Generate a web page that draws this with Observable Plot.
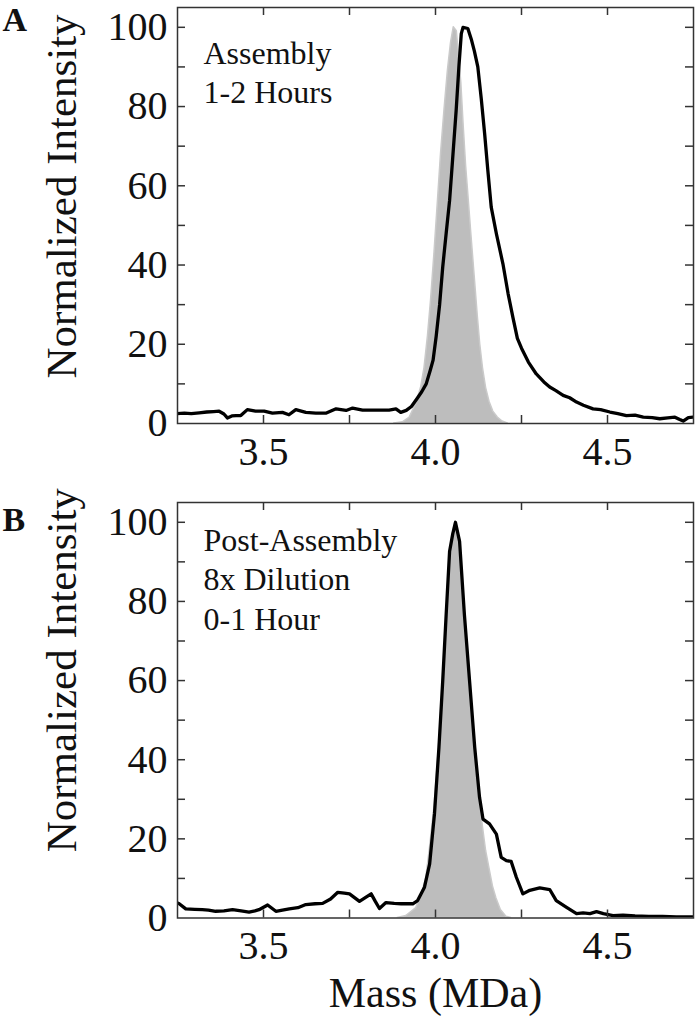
<!DOCTYPE html>
<html>
<head>
<meta charset="utf-8">
<script src="https://cdn.jsdelivr.net/npm/d3@7"></script>
<script src="https://cdn.jsdelivr.net/npm/@observablehq/plot@0.6"></script>
<style>
  html, body { margin: 0; padding: 0; background: #fff; }
  #chart { width: 695px; height: 1020px; position: relative; background: #fff; }
  #chart svg { display: block; }
</style>
</head>
<body>
<div id="chart"></div>
<script>
// ---------- Data ----------
// Panel A: Assembly 1-2 Hours (black measured trace)
const massA = [3.245,3.27,3.29,3.313,3.335,3.355,3.371,3.385,3.395,3.408,3.420,3.434,3.453,3.477,3.502,3.526,3.555,3.574,3.594,3.623,3.652,3.681,3.711,3.740,3.759,3.788,3.826,3.865,3.885,3.899,3.915,3.930,3.944,3.960,3.973,3.985,3.993,4.002,4.012,4.021,4.031,4.041,4.050,4.060,4.068,4.075,4.080,4.094,4.104,4.113,4.123,4.133,4.143,4.152,4.162,4.177,4.196,4.211,4.225,4.238,4.250,4.270,4.293,4.315,4.332,4.350,4.371,4.390,4.410,4.430,4.458,4.480,4.507,4.530,4.555,4.580,4.604,4.630,4.652,4.675,4.696,4.710,4.720,4.735,4.749];
const intensityA = [2.5,2.6,2.5,2.7,2.9,3.0,3.1,2.4,1.4,1.9,2.0,2.0,3.5,3.1,3.1,2.6,2.8,2.2,3.5,2.8,2.6,2.6,3.7,3.3,3.9,3.4,3.4,3.4,3.7,2.8,3.3,4.3,6.0,8.0,10.0,13.5,16.0,22.0,30.0,39.5,48.0,56.3,67.0,79.0,90.0,98.4,100,99.7,97,94,90,82,73,64,54.6,47.9,40.3,32.8,26.8,21.5,19.0,15.5,12.5,10.5,9.2,8.3,7.1,6.5,5.4,4.6,3.7,3.5,2.9,2.5,2.0,2.1,1.6,1.5,1.2,1.4,1.6,1.0,0.6,1.5,1.6];
// Panel A: gray reference distribution
const grayMassA = [3.880,3.905,3.925,3.944,3.958,3.968,3.978,3.987,3.997,4.007,4.016,4.026,4.036,4.045,4.053,4.062,4.068,4.075,4.082,4.089,4.097,4.104,4.114,4.123,4.130,4.138,4.147,4.157,4.168,4.181,4.195,4.210];
const grayIntA = [0,0.3,1.5,5,9,14,22,31,43,56,68,79,89,96,100,99,93,86,75,65,56,48,37,27,20,14,9,5.5,3,1.5,0.5,0];

// Panel B: Post-Assembly 8x Dilution 0-1 Hour (black measured trace)
const massB = [3.245,3.255,3.274,3.30,3.322,3.34,3.361,3.385,3.410,3.435,3.458,3.475,3.487,3.512,3.536,3.555,3.575,3.60,3.623,3.650,3.672,3.695,3.716,3.735,3.750,3.779,3.797,3.813,3.825,3.837,3.856,3.88,3.90,3.92,3.934,3.948,3.968,3.983,3.997,4.010,4.021,4.031,4.041,4.050,4.058,4.070,4.084,4.099,4.114,4.128,4.138,4.157,4.177,4.191,4.206,4.220,4.235,4.254,4.274,4.303,4.332,4.351,4.381,4.410,4.429,4.449,4.468,4.488,4.516,4.545,4.58,4.62,4.66,4.70,4.749];
const intensityB = [4.0,3.6,2.3,2.2,2.1,2.0,1.7,1.8,2.1,1.8,1.5,1.8,2.1,3.3,1.7,2.0,2.3,2.6,3.4,3.6,3.7,4.8,6.5,6.3,6.1,4.2,5.2,6.1,4.2,2.4,3.9,3.7,3.6,3.6,3.6,4.4,7.8,13.7,26.3,43.1,59.9,76.7,92.7,97,100,95.2,76.7,59.9,43.1,30.5,25.0,23.8,21.2,15.3,14.5,14.3,10.3,6.1,7.0,7.6,7.2,4.4,2.7,1.1,1.3,1.1,1.6,1.1,0.6,0.7,0.5,0.4,0.4,0.3,0.3];
// Panel B: gray reference distribution
const grayMassB = [3.890,3.915,3.944,3.960,3.973,3.983,3.997,4.010,4.021,4.031,4.041,4.050,4.058,4.066,4.074,4.084,4.099,4.114,4.128,4.138,4.147,4.157,4.167,4.177,4.190,4.206,4.220];
const grayIntB = [0,0.5,2.5,6,10,17,28,43,58,74,89,97,100,96,90,77,60,43,30,23,17,12.5,8,5,2,0.3,0];

// Axes / ticks
const xDomain = [3.25, 4.75];
const yDomain = [0, 105];
const xTickAll = [3.5, 3.75, 4.0, 4.25, 4.5];
const xTickLabels = [3.5, 4.0, 4.5];
const yTickAll = [10, 20, 30, 40, 50, 60, 70, 80, 90, 100];
const yTickLabels = [0, 20, 40, 60, 80, 100];

const panelLetters = ["A", "B"];
const notes = ["Assembly\n1-2 Hours", "Post-Assembly\n8x Dilution\n0-1 Hour"];
const yLabel = "Normalized Intensity";
const xLabel = "Mass (MDa)";

// ---------- Drawing ----------
const FONT = '"Liberation Serif", "Times New Roman", Times, serif';
const zip = (xs, ys) => xs.map((m, i) => ({m, v: ys[i]}));

function panel(cfg) {
  const W = 695;
  const innerW = W - cfg.ml - cfg.mr;
  const innerH = cfg.h - cfg.mt - cfg.mb;
  const tk = 8;
  const tickStyle = {stroke: "#333", strokeWidth: 1.5};
  const marks = [
    Plot.areaY(zip(cfg.gm, cfg.gv), {x: "m", y: "v", fill: "#bdbdbd", stroke: "#cacaca", strokeWidth: 1.5, clip: true}),
    Plot.line(zip(cfg.bm, cfg.bv), {x: "m", y: "v", stroke: "#000", strokeWidth: 3.3, strokeLinejoin: "round", clip: true}),
    Plot.frame({stroke: "#333", strokeWidth: 1.5}),
    // inward ticks on all four sides
    Plot.tickX(xTickAll, {x: d => d, insetTop: innerH - tk, ...tickStyle}),
    Plot.tickX(xTickAll, {x: d => d, insetBottom: innerH - tk, ...tickStyle}),
    Plot.tickY(yTickAll, {y: d => d, insetRight: innerW - tk, ...tickStyle}),
    Plot.tickY(yTickAll, {y: d => d, insetLeft: innerW - tk, ...tickStyle}),
    Plot.axisX(xTickLabels, {tickSize: 0, tickPadding: 13, tickFormat: d3.format(".1f"), fontSize: 40, label: null, fill: "#111"}),
    Plot.axisY(yTickLabels, {tickSize: 0, tickPadding: 10, fontSize: 40, label: null, fill: "#111"}),
    Plot.text([cfg.note], {text: d => d, frameAnchor: "top-left", textAnchor: "start", lineAnchor: "top", dx: 26, dy: cfg.noteDy, fontSize: 32, lineHeight: 1.24, fill: "#111"}),
    Plot.text([cfg.letter], {text: d => d, frameAnchor: "top-left", textAnchor: "start", lineAnchor: "top", dx: -175, dy: cfg.letterDy, fontSize: 34, fontWeight: "bold", fill: "#111"}),
    Plot.text([yLabel], {text: d => d, frameAnchor: "left", rotate: -90, textAnchor: "middle", lineAnchor: "middle", dx: -115, dy: cfg.ylDy, fontSize: 43, fill: "#111"})
  ];
  if (cfg.xlabel) {
    marks.push(Plot.text([xLabel], {text: d => d, frameAnchor: "bottom", textAnchor: "middle", lineAnchor: "middle", dy: 76, fontSize: 42, fill: "#111"}));
  }
  return Plot.plot({
    width: W, height: cfg.h,
    marginLeft: cfg.ml, marginRight: cfg.mr, marginTop: cfg.mt, marginBottom: cfg.mb,
    x: {domain: xDomain},
    y: {domain: yDomain},
    style: {fontFamily: FONT, fontSize: "40px", background: "#fff", color: "#111", overflow: "visible"},
    marks
  });
}

const chart = document.getElementById("chart");
chart.append(panel({h: 478, ml: 177, mr: 2, mt: 7, mb: 55, bm: massA, bv: intensityA, gm: grayMassA, gv: grayIntA,
  note: notes[0], noteDy: 28, letter: panelLetters[0], letterDy: -1, ylDy: -19}));
chart.append(panel({h: 542, ml: 177, mr: 2, mt: 24, mb: 102.5, bm: massB, bv: intensityB, gm: grayMassB, gv: grayIntB,
  note: notes[1], noteDy: 20, letter: panelLetters[1], letterDy: 4, ylDy: -40, xlabel: true}));
</script>
</body>
</html>
